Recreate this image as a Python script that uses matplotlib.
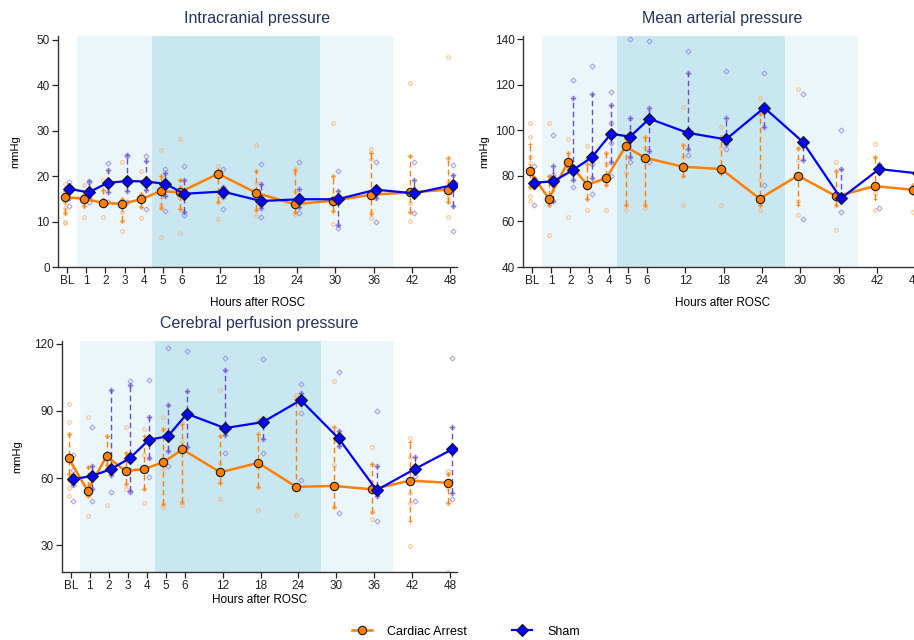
import numpy as np
import matplotlib
matplotlib.use("Agg")
import matplotlib.pyplot as plt
from matplotlib.lines import Line2D

plt.rcParams["font.family"] = ["Liberation Sans", "DejaVu Sans"]

# time points (BL = baseline)
hours = ["BL", "1", "2", "3", "4", "5", "6", "12", "18", "24", "30", "36", "42", "48"]

# ---- Intracranial pressure ----
icp_ca_med = [15.4, 15.0, 14.1, 13.9, 14.9, 16.7, 16.4, 20.5, 16.3, 13.8, 14.6, 15.9, 16.4, 17.0]
icp_ca_q1 = [11.8, 13.5, 14.0, 10.2, 13.2, 12.9, 12.7, 14.4, 12.6, 12.1, 12.4, 11.6, 12.1, 14.3]
icp_ca_q3 = [16.8, 16.0, 17.0, 15.0, 16.1, 20.0, 19.2, 21.3, 21.0, 21.3, 20.1, 25.0, 24.3, 24.0]
icp_ca_pts = [
    [18.3, 16.6, 14.3, 13.0, 11.8, 10.0, 9.7], [18.1, 15.5, 14.5, 13.5, 11.0],
    [19.2, 17.0, 14.0, 11.1], [23.0, 15.0, 14.0, 12.2, 10.2, 8.0],
    [21.1, 16.1, 15.0, 13.2, 10.7], [25.8, 20.0, 16.7, 13.7, 12.9, 6.5],
    [28.1, 19.2, 17.5, 15.1, 12.7, 7.5], [22.1, 21.3, 20.5, 15.9, 14.4, 10.5],
    [26.8, 21.0, 18.4, 16.3, 12.6, 11.3], [21.6, 21.2, 16.8, 13.8, 12.1, 11.7],
    [31.6, 20.1, 15.5, 14.6, 12.4, 9.4], [26.0, 25.0, 23.7, 15.9, 11.8, 10.7],
    [40.4, 24.3, 16.4, 14.0, 12.1, 10.1], [46.1, 24.0, 18.6, 15.5, 14.3, 11.1],
]
icp_sh_med = [17.2, 16.4, 18.5, 18.9, 18.8, 18.3, 16.1, 16.6, 14.5, 14.9, 14.9, 17.0, 16.2, 18.0]
icp_sh_q1 = [15.1, 15.2, 16.4, 16.8, 17.0, 15.6, 12.1, 15.5, 12.9, 13.2, 9.2, 15.2, 15.5, 13.5]
icp_sh_q3 = [17.8, 18.9, 21.3, 24.6, 23.3, 20.6, 19.2, 17.7, 18.2, 17.2, 16.7, 17.2, 19.1, 20.2]
icp_sh_pts = [
    [18.8, 17.2, 15.2, 13.5], [18.9, 18.6, 16.4, 15.2, 14.3],
    [22.8, 21.3, 18.5, 16.4, 14.4], [24.6, 24.3, 18.9, 16.8, 14.4],
    [24.3, 23.3, 18.8, 17.0, 12.8], [21.5, 20.6, 18.3, 15.6, 12.4],
    [22.1, 19.2, 16.1, 12.1, 11.4], [21.5, 17.7, 16.6, 15.5, 12.7],
    [22.7, 18.2, 14.5, 12.9, 11.0], [23.0, 17.2, 14.9, 13.2, 11.8],
    [21.0, 16.7, 14.9, 9.2, 8.5], [23.0, 17.2, 15.2, 10.0],
    [23.0, 19.1, 16.2, 11.8], [22.4, 20.2, 18.0, 13.5, 7.9],
]

# ---- Mean arterial pressure ----
map_ca_med = [82.0, 70.0, 86.1, 76.1, 79.0, 92.9, 88.0, 84.0, 83.0, 70.0, 80.1, 71.0, 75.5, 73.9]
map_ca_q1 = [75.1, 67.0, 84.0, 70.0, 76.1, 67.0, 67.0, 80.1, 81.0, 67.0, 67.0, 67.0, 70.0, 72.5]
map_ca_q3 = [94.0, 80.1, 90.0, 85.2, 90.0, 96.0, 97.2, 93.4, 97.2, 107.1, 92.2, 82.0, 88.2, 76.1]
map_ca_pts = [
    [103.0, 97.2, 88.5, 85.6, 75.1, 71.0, 69.1], [103.0, 80.1, 70.0, 67.0, 54.0],
    [96.1, 90.0, 86.1, 84.0, 61.9], [93.2, 85.2, 76.1, 70.0, 64.9],
    [90.0, 85.2, 79.0, 76.1, 64.9], [97.0, 92.9, 81.2, 67.0, 64.9],
    [97.2, 92.2, 88.0, 67.0, 65.9], [110.2, 93.4, 88.5, 80.1, 67.0],
    [101.3, 97.2, 92.3, 83.0, 67.0], [114.1, 107.1, 78.3, 67.0, 64.9],
    [118.2, 92.2, 87.1, 69.1, 63.0], [86.1, 82.0, 71.0, 67.0, 56.1],
    [94.0, 88.2, 75.5, 72.5, 64.9], [76.1, 73.9, 72.5, 64.1],
]
map_sh_med = [77.0, 77.6, 82.5, 88.1, 98.5, 97.2, 105.1, 98.9, 96.0, 109.9, 95.0, 70.1, 83.0, 81.1]
map_sh_q1 = [75.0, 69.1, 78.0, 79.0, 86.1, 88.2, 91.0, 92.0, 94.1, 101.3, 87.1, 70.1, 81.1, 71.0]
map_sh_q3 = [79.0, 84.4, 114.0, 116.0, 111.1, 105.2, 110.0, 125.1, 105.2, 111.0, 95.5, 83.1, 85.2, 101.3]
map_sh_pts = [
    [84.2, 79.0, 77.0, 75.0, 67.0], [98.0, 84.4, 80.5, 77.6, 69.1],
    [122.0, 114.0, 82.5, 78.0, 75.0], [128.0, 116.0, 88.1, 85.0, 79.0, 72.2],
    [117.0, 111.1, 103.2, 94.4, 86.1, 80.1], [140.0, 105.2, 97.2, 88.2, 86.1],
    [139.0, 110.0, 105.1, 91.0, 86.1], [135.0, 125.1, 98.9, 92.0, 89.1],
    [126.1, 105.2, 96.0, 94.1, 92.0], [125.1, 110.0, 101.3, 76.1],
    [116.0, 95.0, 87.1, 61.1], [100.0, 83.1, 70.1, 64.1],
    [85.2, 83.0, 81.1, 66.0], [136.0, 101.3, 81.1, 71.0, 67.0],
]

# ---- Cerebral perfusion pressure ----
cpp_ca_med = [68.9, 54.4, 69.8, 63.1, 64.1, 67.1, 72.8, 62.6, 66.8, 56.1, 56.5, 55.0, 58.9, 57.9]
cpp_ca_q1 = [62.0, 52.0, 66.0, 57.3, 55.0, 48.3, 49.5, 58.0, 56.2, 55.6, 47.1, 44.7, 40.7, 49.1]
cpp_ca_q3 = [79.5, 65.0, 78.9, 71.0, 79.0, 82.0, 84.1, 78.7, 79.5, 95.1, 82.6, 66.2, 75.9, 61.7]
cpp_ca_pts = [
    [93.2, 85.1, 79.5, 62.0, 59.0, 55.6, 52.0], [87.1, 65.0, 56.4, 52.0, 43.0],
    [78.9, 69.8, 66.0, 48.0], [82.7, 71.0, 63.1, 57.3, 55.0],
    [82.0, 70.2, 64.1, 55.0, 48.9], [87.4, 82.0, 64.1, 48.3, 47.1],
    [84.4, 75.9, 72.8, 49.5, 48.0], [99.1, 78.7, 66.8, 58.0, 50.8],
    [85.9, 79.5, 64.7, 56.2, 45.9], [97.0, 95.1, 55.6, 43.4],
    [103.3, 82.6, 65.8, 47.1], [74.0, 66.2, 44.7, 41.8],
    [77.7, 69.5, 53.4, 48.9, 29.5], [63.1, 61.7, 55.6, 49.1, 18.0],
]
cpp_sh_med = [59.5, 61.0, 64.0, 69.0, 77.1, 78.7, 88.7, 82.3, 85.0, 94.8, 77.7, 54.6, 64.0, 72.9]
cpp_sh_q1 = [57.0, 55.0, 61.6, 54.4, 69.0, 72.3, 74.0, 79.2, 77.5, 92.6, 74.2, 52.0, 63.1, 53.5]
cpp_sh_q3 = [62.0, 65.5, 99.3, 101.4, 87.4, 92.7, 98.7, 108.4, 86.5, 97.8, 80.8, 65.3, 69.5, 82.9]
cpp_sh_pts = [
    [70.5, 63.5, 57.0, 49.7], [82.7, 65.5, 55.0, 49.8],
    [99.3, 61.6, 53.8], [103.5, 101.4, 54.4, 53.8],
    [103.9, 87.4, 69.0, 60.5], [118.2, 92.7, 72.3, 65.5],
    [116.6, 98.7, 74.0], [113.4, 108.4, 79.2, 71.3],
    [113.0, 86.5, 77.5, 71.3], [102.0, 97.8, 89.0, 59.0],
    [107.3, 80.8, 74.2, 44.4], [89.9, 65.3, 52.0, 40.9],
    [69.5, 61.1, 49.8], [113.4, 82.9, 53.5, 50.7],
]

ORANGE = "#ff7f00"
BLUE = "#0000ff"
ORANGE_PT = "#f9a865"
PURPLE_PT = "#8a78dc"
PURPLE_BAR = "#6a4fc9"
TITLE_COL = "#27345e"


def hour_pos(label):
    # hours 1..6 are spaced 1 apart, later 6-hour steps get 2 units each
    if label == "BL":
        return 0
    h = int(label)
    return h if h <= 6 else 6 + (h - 6) / 3


xpos = np.array([hour_pos(h) for h in hours])


def draw_group(ax, x, med, q1, q3, pts, line_col, bar_col, pt_col, marker, ms, lw):
    for xi, p in zip(x, pts):
        ax.plot([xi] * len(p), p, linestyle="none", marker=marker, ms=2.6,
                mfc="none", mec=pt_col, mew=0.7, alpha=0.75, zorder=2)
    ax.vlines(x, q1, q3, colors=bar_col, linestyles=(0, (4, 2.5)), lw=1.0, zorder=3)
    ax.plot(x, q1, "+", color=bar_col, ms=3.5, mew=0.8, alpha=0.85, zorder=3)
    ax.plot(x, q3, "+", color=bar_col, ms=3.5, mew=0.8, alpha=0.85, zorder=3)
    ax.plot(x, med, color=line_col, lw=lw, marker=marker, ms=ms, mfc=line_col,
            mec="#1a1a1a", mew=0.8, zorder=4)


def panel(ax, title, ylim, yticks, ca, sh, labelpad, ylab_x):
    ax.axvspan(0.5, 17.0, color="#eaf6f9", lw=0, zorder=0)
    ax.axvspan(4.45, 13.2, color="#c9e7f0", lw=0, zorder=0)
    draw_group(ax, xpos - 0.12, *ca, ORANGE, ORANGE, ORANGE_PT, "o", 6, 1.8)
    draw_group(ax, xpos + 0.12, *sh, BLUE, PURPLE_BAR, PURPLE_PT, "D", 6, 1.6)
    ax.set_xlim(-0.47, 20.35)
    ax.set_ylim(*ylim)
    ax.set_xticks(xpos)
    ax.set_xticklabels(hours)
    ax.set_yticks(yticks)
    ax.set_title(title, fontsize=11.5, color=TITLE_COL, pad=9)
    ax.set_xlabel("Hours after ROSC", fontsize=8.5, labelpad=labelpad)
    ax.set_ylabel("mmHg", fontsize=8)
    ax.yaxis.set_label_coords(ylab_x, 0.5)
    for s in ["top", "right"]:
        ax.spines[s].set_visible(False)
    for s in ["left", "bottom"]:
        ax.spines[s].set_color("#333333")
        ax.spines[s].set_linewidth(1.0)
    ax.tick_params(direction="out", length=4, width=0.9, labelsize=8.5, pad=2,
                   colors="#222222")


fig = plt.figure(figsize=(9.14, 6.4), dpi=100)
ax1 = fig.add_axes([0.0635, 0.5828, 0.4365, 0.361])
ax2 = fig.add_axes([0.5722, 0.5828, 0.4365, 0.361])
ax3 = fig.add_axes([0.0678, 0.10625, 0.432, 0.361])

panel(ax1, "Intracranial pressure", (0, 50.8), range(0, 51, 10),
      (icp_ca_med, icp_ca_q1, icp_ca_q3, icp_ca_pts),
      (icp_sh_med, icp_sh_q1, icp_sh_q3, icp_sh_pts), 7, -0.095)
panel(ax2, "Mean arterial pressure", (40, 141.4), range(40, 141, 20),
      (map_ca_med, map_ca_q1, map_ca_q3, map_ca_pts),
      (map_sh_med, map_sh_q1, map_sh_q3, map_sh_pts), 7, -0.085)
panel(ax3, "Cerebral perfusion pressure", (18.1, 121.2), range(30, 121, 30),
      (cpp_ca_med, cpp_ca_q1, cpp_ca_q3, cpp_ca_pts),
      (cpp_sh_med, cpp_sh_q1, cpp_sh_q3, cpp_sh_pts), 1, -0.101)

handles = [
    Line2D([], [], color=ORANGE, lw=1.8, marker="o", ms=6, mfc=ORANGE, mec="#1a1a1a", mew=0.8),
    Line2D([], [], color=BLUE, lw=1.6, marker="D", ms=6, mfc=BLUE, mec="#1a1a1a", mew=0.8),
]
fig.legend(handles, ["Cardiac Arrest", "Sham"], loc="center", bbox_to_anchor=(0.51, 0.013),
           ncol=2, frameon=False, fontsize=9, handlelength=1.6, columnspacing=3.6,
           handletextpad=1.2)

fig.savefig("out.png", dpi=100)
